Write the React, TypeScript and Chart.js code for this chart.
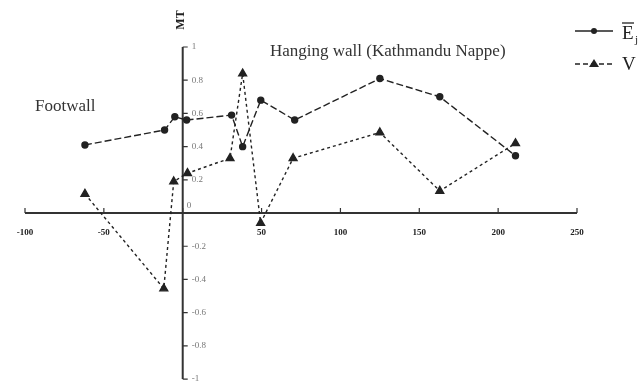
import React, { useEffect, useRef } from "react";
import { Chart, registerables } from "chart.js";

Chart.register(...registerables);

const eX = [-62, -11.5, -5, 2.5, 31, 38, 49.5, 71, 125, 163, 211];
const eY = [0.41, 0.5, 0.58, 0.56, 0.59, 0.4, 0.68, 0.56, 0.81, 0.7, 0.345];
const vX = [-62, -12, -5.7, 3, 30, 38, 49.4, 70, 125, 163, 211];
const vY = [0.115, -0.455, 0.19, 0.24, 0.33, 0.84, -0.06, 0.33, 0.485, 0.133, 0.42];
const xTicks = [-100, -50, 0, 50, 100, 150, 200, 250];
const xTickLabels = ["-100", "-50", "", "50", "100", "150", "200", "250"];
const yTicks = [1, 0.8, 0.6, 0.4, 0.2, 0, -0.2, -0.4, -0.6, -0.8, -1];
const yTickLabels = ["1", "0.8", "0.6", "0.4", "0.2", "0", "-0.2", "-0.4", "-0.6", "-0.8", "-1"];
const yAxisTitle = "MT";
const hangingLabel = "Hanging wall (Kathmandu Nappe)";
const footLabel = "Footwall";

const axesPlugin = {
  id: "customAxes",
  beforeDatasetsDraw(chart: any) {
    const ctx = chart.ctx;
    const xs = chart.scales.x;
    const ys = chart.scales.y;
    const x0 = xs.getPixelForValue(0);
    const y0 = ys.getPixelForValue(0);
    ctx.save();
    ctx.strokeStyle = "#333";
    ctx.lineWidth = 2;
    ctx.beginPath();
    ctx.moveTo(xs.getPixelForValue(-100), y0);
    ctx.lineTo(xs.getPixelForValue(250), y0);
    ctx.moveTo(x0, ys.getPixelForValue(1));
    ctx.lineTo(x0, ys.getPixelForValue(-1));
    ctx.stroke();
    ctx.lineWidth = 1.2;
    ctx.beginPath();
    xTicks.forEach((t) => {
      const px = xs.getPixelForValue(t);
      ctx.moveTo(px, y0);
      ctx.lineTo(px, y0 - 5);
    });
    yTicks.forEach((t) => {
      const py = ys.getPixelForValue(t);
      ctx.moveTo(x0, py);
      ctx.lineTo(x0 + 5, py);
    });
    ctx.stroke();
    // x tick labels
    ctx.fillStyle = "#222";
    ctx.font = "bold 9px 'Liberation Serif', serif";
    ctx.textAlign = "center";
    ctx.textBaseline = "middle";
    xTicks.forEach((t, i) => {
      ctx.fillText(xTickLabels[i], xs.getPixelForValue(t), y0 + 20);
    });
    // y tick labels
    ctx.fillStyle = "#777";
    ctx.font = "9px 'Liberation Serif', serif";
    ctx.textAlign = "left";
    yTicks.forEach((t, i) => {
      const py = ys.getPixelForValue(t) + (t === 0 ? -7 : 0);
      ctx.fillText(yTickLabels[i], x0 + (t === 0 ? 4 : 9), py);
    });
    // MT title
    ctx.save();
    ctx.translate(x0 - 2, 20);
    ctx.rotate(-Math.PI / 2);
    ctx.fillStyle = "#222";
    ctx.font = "bold 12px 'Liberation Serif', serif";
    ctx.textAlign = "center";
    ctx.fillText(yAxisTitle, 0, 0);
    ctx.restore();
    // annotations
    ctx.fillStyle = "#333";
    ctx.font = "17px 'Liberation Serif', serif";
    ctx.textAlign = "left";
    ctx.fillText(hangingLabel, 270, 52);
    ctx.fillText(footLabel, 35, 107);
    ctx.restore();
  },
  afterDraw(chart: any) {
    const ctx = chart.ctx;
    ctx.save();
    ctx.strokeStyle = "#222";
    ctx.fillStyle = "#222";
    // legend E
    ctx.lineWidth = 1.3;
    ctx.setLineDash([]);
    ctx.beginPath();
    ctx.moveTo(575, 31);
    ctx.lineTo(613, 31);
    ctx.stroke();
    ctx.beginPath();
    ctx.arc(594, 31, 3, 0, Math.PI * 2);
    ctx.fill();
    ctx.font = "19px 'Liberation Serif', serif";
    ctx.textAlign = "left";
    ctx.textBaseline = "alphabetic";
    ctx.fillText("E", 622, 39);
    ctx.beginPath();
    ctx.moveTo(622, 23);
    ctx.lineTo(634, 23);
    ctx.stroke();
    ctx.font = "11px 'Liberation Serif', serif";
    ctx.fillText("j", 635, 43);
    // legend V
    ctx.setLineDash([5, 3]);
    ctx.beginPath();
    ctx.moveTo(575, 64);
    ctx.lineTo(613, 64);
    ctx.stroke();
    ctx.setLineDash([]);
    ctx.beginPath();
    ctx.moveTo(594, 59);
    ctx.lineTo(599, 67);
    ctx.lineTo(589, 67);
    ctx.closePath();
    ctx.fill();
    ctx.font = "19px 'Liberation Serif', serif";
    ctx.fillText("V", 622, 70);
    ctx.restore();
  },
};

export default function App() {
  const ref = useRef<HTMLCanvasElement>(null);
  useEffect(() => {
    if (!ref.current) return;
    const chart = new Chart(ref.current, {
      type: "line",
      data: {
        datasets: [
          {
            label: "E",
            data: eX.map((x, i) => ({ x, y: eY[i] })),
            borderColor: "#222",
            backgroundColor: "#222",
            borderWidth: 1.4,
            borderDash: [7, 3],
            pointStyle: "circle",
            pointRadius: 3,
            clip: false,
          },
          {
            label: "V",
            data: vX.map((x, i) => ({ x, y: vY[i] })),
            borderColor: "#222",
            backgroundColor: "#222",
            borderWidth: 1.4,
            borderDash: [3, 3],
            pointStyle: "triangle",
            pointRadius: 4.5,
            clip: false,
          },
        ],
      },
      options: {
        animation: false,
        responsive: false,
        maintainAspectRatio: false,
        layout: { padding: { left: 25, right: 64, top: 47, bottom: 5 } },
        plugins: { legend: { display: false }, tooltip: { enabled: false } },
        scales: {
          x: { type: "linear", min: -100, max: 250, display: false },
          y: { type: "linear", min: -1, max: 1, display: false },
        },
      },
      plugins: [axesPlugin],
    });
    return () => chart.destroy();
  }, []);
  return (
    <div style={{ position: "fixed", left: 0, top: 0, width: 641, height: 385, background: "#fff" }}>
      <canvas ref={ref} width={641} height={385} style={{ width: 641, height: 385 }} />
    </div>
  );
}
